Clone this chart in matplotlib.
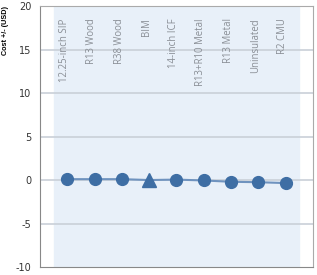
import matplotlib.pyplot as plt

plt.rcParams["axes.unicode_minus"] = False

categories = ["12.25-inch SIP", "R13 Wood", "R38 Wood", "BIM", "14-inch ICF",
              "R13+R10 Metal", "R13 Metal", "Uninsulated", "R2 CMU"]
cost = [0.1, 0.1, 0.1, 0.0, 0.05, -0.05, -0.2, -0.25, -0.35]
baseline = "BIM"
yticks = [-10, -5, 0, 5, 10, 15, 20]

fig = plt.figure(figsize=(3.17, 2.75), dpi=100)
ax = fig.add_axes([0.126, 0.029, 0.861, 0.949])

x = list(range(len(categories)))
ax.axvspan(-0.5, len(categories) - 0.5, color="#e8f0f9", zorder=0)
for yv in yticks[1:-1]:
    ax.axhline(yv, color="#c9d0d8", lw=1.2, zorder=1)

ax.plot(x, cost, color="#6f93bf", lw=1.5, zorder=2)
for xi, yi, name in zip(x, cost, categories):
    m = "^" if name == baseline else "o"
    ax.plot(xi, yi, marker=m, ms=8.5 if m == "o" else 10, color="#3e6ea4",
            ls="none", zorder=3)
    ax.text(xi - 0.1, 18.6, name, rotation=90, ha="center", va="top",
            fontsize=6.9, color="#8a8f96", family="Open Sans")

ax.set_xlim(-1, 9)
ax.set_ylim(-10, 20)
ax.set_yticks(yticks)
ax.set_xticks([])
ax.tick_params(axis="y", length=0, labelsize=7, colors="#333333", pad=6)
ax.set_ylabel("Cost +/- (USD)", fontsize=5.2, fontweight="bold",
              family="Liberation Sans")
ax.yaxis.set_label_coords(-0.115, 0.905)
for side in ["left", "bottom"]:
    ax.spines[side].set_color("#888888")
for side in ["top", "right"]:
    ax.spines[side].set_color("#aaaaaa")

fig.savefig("out.png", dpi=100)
